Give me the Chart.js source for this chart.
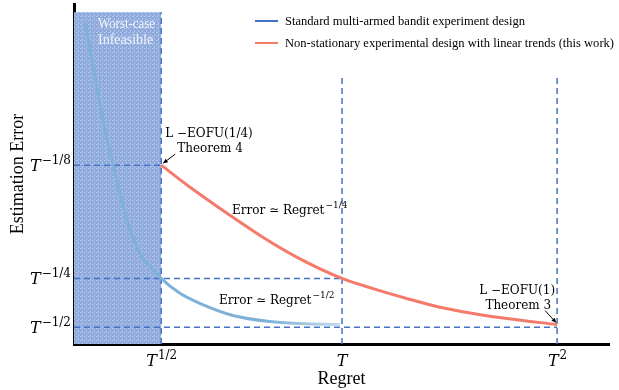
<!DOCTYPE html>
<html>
<head>
<meta charset="utf-8">
<script src="https://cdn.jsdelivr.net/npm/chart.js@4.4.1/dist/chart.umd.min.js"></script>
<style>
html, body { margin: 0; padding: 0; background: #fff; }
#wrap { width: 619px; height: 390px; position: relative; }
</style>
</head>
<body>
<div id="wrap"><canvas id="graph"></canvas></div>
<script>
// axis units are arbitrary (0..100)
var xTickVals = [16.3, 50.1, 90.3];
var xTickSup = ['1/2', '', '2'];
var yTickVals = [52.6, 19.3, 4.9];
var yTickSup = ['\u22121/8', '\u22121/4', '\u22121/2'];
var guideTop = [97.6, 79, 79];

var standardX = [2.1, 3.7, 5.4, 7.3, 9.9, 12.3, 16.3, 19.8, 23.6, 29.7, 36.6, 42.2, 49.7];
var standardY = [94.4, 80.6, 65.8, 52.6, 36.4, 26.7, 19.3, 14.9, 11.9, 8.4, 6.6, 6.0, 5.7];

var trendX = [16.3, 21.7, 29.2, 35.3, 41.7, 50.1, 55.9, 62.2, 68.4, 74.6, 80.9, 90.3];
var trendY = [52.6, 46.1, 37.8, 31.4, 25.5, 19.3, 16.3, 13.4, 10.8, 8.97, 7.5, 5.7];

var seriesNames = [
    'Standard multi-armed bandit experiment design',
    'Non-stationary experimental design with linear trends (this work)'
];

function pts(xs, ys) {
    return xs.map(function (v, i) { return { x: v, y: ys[i] }; });
}

var guideColor = '#4472c4';
var datasets = [
    {
        label: seriesNames[0],
        data: pts(standardX, standardY),
        borderColor: function (ctx) {
            var ch = ctx.chart, a = ch.chartArea;
            if (!a) return '#7fb1d8';
            var sx = ch.scales.x;
            var g = ch.ctx.createLinearGradient(sx.getPixelForValue(36), 0, sx.getPixelForValue(50), 0);
            g.addColorStop(0, '#7fb1d8');
            g.addColorStop(1, '#c3dbee');
            return g;
        },
        borderWidth: 3,
        pointRadius: 0,
        cubicInterpolationMode: 'monotone'
    },
    {
        label: seriesNames[1],
        data: pts(trendX, trendY),
        borderColor: '#f47a69',
        borderWidth: 3,
        pointRadius: 0,
        cubicInterpolationMode: 'monotone'
    }
];

// dashed guide lines
xTickVals.forEach(function (v, i) {
    datasets.push({
        label: 'guide',
        data: [{ x: v, y: 0 }, { x: v, y: guideTop[i] }],
        borderColor: guideColor, borderWidth: 1.5, borderDash: [6, 4], pointRadius: 0
    });
    datasets.push({
        label: 'guide',
        data: [{ x: 0, y: yTickVals[i] }, { x: v, y: yTickVals[i] }],
        borderColor: guideColor, borderWidth: 1.5, borderDash: [6, 4], pointRadius: 0
    });
});

var serif = '"Liberation Serif", "Times New Roman", serif';
var mathFont = '"DejaVu Serif", serif';

function supText(c, base, sup, x, y, align, baseFont, supFont, rise) {
    c.font = baseFont;
    var w1 = c.measureText(base).width;
    c.font = supFont;
    var w2 = sup ? c.measureText(sup).width : 0;
    var left = x;
    if (align === 'center') left = x - (w1 + w2) / 2;
    if (align === 'right') left = x - (w1 + w2);
    c.textAlign = 'left';
    c.font = baseFont;
    c.fillText(base, left, y);
    if (sup) {
        c.font = supFont;
        c.fillText(sup, left + w1 + 1, y - rise);
    }
}

function arrow(c, x1, y1, x2, y2) {
    var ang = Math.atan2(y2 - y1, x2 - x1), h = 5;
    c.beginPath();
    c.moveTo(x1, y1);
    c.lineTo(x2, y2);
    c.stroke();
    c.beginPath();
    c.moveTo(x2, y2);
    c.lineTo(x2 - h * Math.cos(ang - 0.45), y2 - h * Math.sin(ang - 0.45));
    c.lineTo(x2 - h * Math.cos(ang + 0.45), y2 - h * Math.sin(ang + 0.45));
    c.closePath();
    c.fill();
}

var decor = {
    id: 'decor',
    beforeDatasetsDraw: function (chart) {
        var c = chart.ctx, sx = chart.scales.x, sy = chart.scales.y;
        var p = document.createElement('canvas');
        p.width = 4; p.height = 4;
        var pc = p.getContext('2d');
        pc.fillStyle = '#8eaadc';
        pc.fillRect(0, 0, 4, 4);
        pc.fillStyle = '#b3c6ea';
        pc.fillRect(0, 0, 2, 1);
        pc.fillRect(2, 2, 1, 2);
        var l = sx.getPixelForValue(0), r = sx.getPixelForValue(xTickVals[0]);
        var t = sy.getPixelForValue(guideTop[0]), b = sy.getPixelForValue(0);
        c.save();
        c.fillStyle = c.createPattern(p, 'repeat');
        c.fillRect(l, t, r - l, b - t);
        c.fillStyle = '#eef2fa';
        c.font = '14px ' + serif;
        c.textBaseline = 'middle';
        c.fillText('Worst-case', l + 24, t + 12, 57);
        c.fillText('Infeasible', l + 24, t + 28, 57);
        c.restore();
    },
    afterDraw: function (chart) {
        var c = chart.ctx, sx = chart.scales.x, sy = chart.scales.y;
        var a = chart.chartArea;
        c.save();
        c.fillStyle = '#000';
        c.strokeStyle = '#000';
        c.textBaseline = 'alphabetic';

        // tick labels
        xTickVals.forEach(function (v, i) {
            supText(c, 'T', xTickSup[i], sx.getPixelForValue(v), a.bottom + 22,
                'center', 'italic 16px ' + mathFont, '12px ' + mathFont, 7);
        });
        yTickVals.forEach(function (v, i) {
            supText(c, 'T', yTickSup[i], a.left - 4, sy.getPixelForValue(v) + 6,
                'right', 'italic 16px ' + mathFont, '12px ' + mathFont, 7);
        });

        // legend
        var lx = 255, ly = [21, 43], lc = [guideColor, '#f47a69'];
        c.lineWidth = 2;
        seriesNames.forEach(function (n, i) {
            c.strokeStyle = lc[i];
            c.beginPath();
            c.moveTo(lx, ly[i]);
            c.lineTo(lx + 23, ly[i]);
            c.stroke();
            c.fillStyle = '#000';
            c.font = '13.5px ' + serif;
            c.textBaseline = 'middle';
            c.fillText(n, lx + 30, ly[i], i === 0 ? 240 : 329);
        });
        c.textBaseline = 'alphabetic';
        c.strokeStyle = '#000';
        c.lineWidth = 1;

        // annotations at curve ends
        var ax = sx.getPixelForValue(trendX[0]), ay = sy.getPixelForValue(trendY[0]);
        c.font = '12px ' + mathFont;
        c.textAlign = 'left';
        c.fillText('L \u2212EOFU(1/4)', ax + 4, ay - 28);
        c.fillText('Theorem 4', ax + 16, ay - 13);
        arrow(c, ax + 14, ay - 11, ax + 2, ay - 2);

        var bx = sx.getPixelForValue(trendX[trendX.length - 1]);
        var by = sy.getPixelForValue(trendY[trendY.length - 1]);
        c.textAlign = 'right';
        c.fillText('L \u2212EOFU(1)', bx - 2, by - 31);
        c.fillText('Theorem 3', bx - 6, by - 16);
        arrow(c, bx - 12, by - 14, bx - 1, by - 2);

        var tx = sx.getPixelForValue(xTickVals[1]);
        supText(c, 'Error \u2243 Regret', '\u22121/4', tx - 110, sy.getPixelForValue(yTickVals[0]) + 49,
            'left', '12px ' + mathFont, '9px ' + mathFont, 6);
        supText(c, 'Error \u2243 Regret', '\u22121/2', tx - 123, sy.getPixelForValue(yTickVals[2]) - 23,
            'left', '12px ' + mathFont, '9px ' + mathFont, 6);
        c.restore();
    }
};

var ctx = document.getElementById('graph');
var graph = new Chart(ctx, {
    type: 'line',
    data: { datasets: datasets },
    plugins: [decor],
    options: {
        responsive: true,
        maintainAspectRatio: false,
        animation: false,
        layout: { padding: { top: 4, right: 10, left: 0, bottom: 0 } },
        plugins: {
            legend: { display: false },
            tooltip: { enabled: false }
        },
        scales: {
            x: {
                type: 'linear',
                min: 0,
                max: 100,
                grid: { display: false },
                border: { display: true, color: '#000', width: 3 },
                ticks: { display: false },
                title: {
                    display: true, text: 'Regret', color: '#000', padding: 0,
                    font: { family: serif, size: 18 }
                },
                afterFit: function (s) { s.height = 46; }
            },
            y: {
                type: 'linear',
                min: 0,
                max: 100,
                grid: { display: false },
                border: { display: true, color: '#000', width: 3 },
                ticks: { display: false },
                title: {
                    display: true, text: 'Estimation Error', color: '#000',
                    padding: { top: 7, bottom: 0 },
                    font: { family: serif, size: 18 }
                },
                afterFit: function (s) { s.width = 74; }
            }
        }
    }
});
</script>
</body>
</html>
